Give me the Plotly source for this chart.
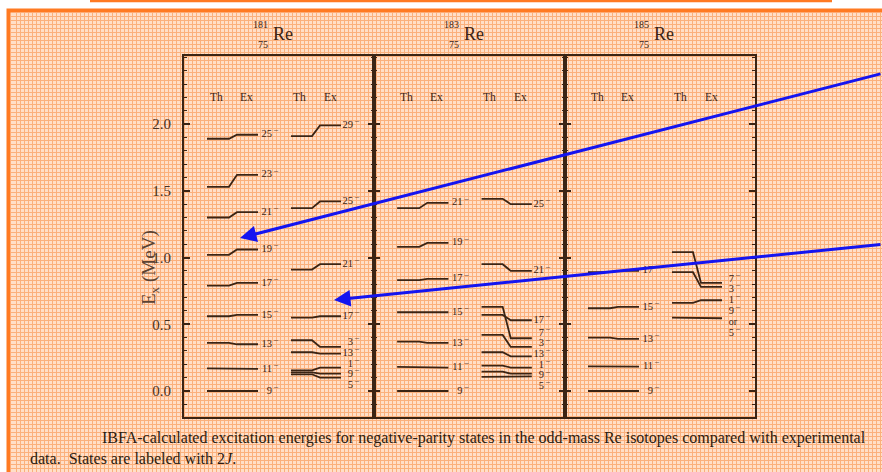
import plotly.graph_objects as go

# ---------------------------------------------------------------------------
# Level energies (MeV) for negative-parity states, labelled by 2J.
# Each isotope has two level columns; every level has a calculated (Th)
# and an experimental (Ex) energy.
# ---------------------------------------------------------------------------
isotopes = ["181", "183", "185"]
proton_number = "75"

re181_a_spin = ["9", "11", "13", "15", "17", "19", "21", "23", "25"]
re181_a_th = [0.00, 0.17, 0.36, 0.56, 0.79, 1.02, 1.30, 1.53, 1.89]
re181_a_ex = [0.00, 0.165, 0.35, 0.57, 0.81, 1.06, 1.34, 1.62, 1.92]
re181_b_spin = ["5", "9", "1", "13", "3", "17", "21", "25", "29"]
re181_b_th = [0.125, 0.14, 0.155, 0.29, 0.38, 0.55, 0.91, 1.37, 1.91]
re181_b_ex = [0.10, 0.13, 0.175, 0.28, 0.33, 0.56, 0.95, 1.42, 1.99]

re183_a_spin = ["9", "11", "13", "15", "17", "19", "21"]
re183_a_th = [0.00, 0.18, 0.37, 0.59, 0.83, 1.08, 1.37]
re183_a_ex = [0.00, 0.175, 0.36, 0.59, 0.84, 1.11, 1.41]
re183_b_spin = ["5", "9", "1", "13", "3", "7", "17", "21", "25"]
re183_b_th = [0.105, 0.145, 0.19, 0.29, 0.42, 0.63, 0.57, 0.95, 1.44]
re183_b_ex = [0.11, 0.13, 0.175, 0.26, 0.33, 0.395, 0.53, 0.90, 1.40]

re185_a_spin = ["9", "11", "13", "15", "17"]
re185_a_th = [0.00, 0.185, 0.40, 0.62, 0.89]
re185_a_ex = [0.00, 0.182, 0.39, 0.63, 0.90]
re185_b_spin = ["9 or 5", "1", "3", "7"]
re185_b_th = [0.55, 0.66, 0.89, 1.04]
re185_b_ex = [0.545, 0.68, 0.78, 0.81]

y_ticks = [0.0, 0.5, 1.0, 1.5, 2.0]
caption_1 = ("IBFA-calculated excitation energies for negative-parity states in the "
             "odd-mass Re isotopes compared with experimental")
caption_2 = "data.  States are labeled with 2<i>J</i>."

panels = [
    [(re181_a_spin, re181_a_th, re181_a_ex), (re181_b_spin, re181_b_th, re181_b_ex)],
    [(re183_a_spin, re183_a_th, re183_a_ex), (re183_b_spin, re183_b_th, re183_b_ex)],
    [(re185_a_spin, re185_a_th, re185_a_ex), (re185_b_spin, re185_b_th, re185_b_ex)],
]

# ---------------------------------------------------------------------------
# Layout geometry (pixels of the 882x472 page)
# ---------------------------------------------------------------------------
W, H = 882, 472
INK = "#3b2414"
ORANGE = "#ff7a22"
SERIF = "Liberation Serif"


def px(x):
    return x / W


def py(y):
    return 1 - y / H


panel_edges = [184, 374, 565, 755]
plot_top, plot_bottom = 56, 417
y_range = [-0.195, 2.51]

# column geometry inside a panel (panel units 0..190)
columns = [
    dict(th=(23, 45), ex=(53, 74), num_x=88, head_th=32, head_ex=62),
    dict(th=(107, 128), ex=(136, 157), num_x=169, head_th=115, head_ex=146),
]
MIN_GAP = 0.08    # MeV between stacked state labels
SUP_DY = 0.032    # raise of the parity sign
LABEL_SIZE = 10.5
OR_STEP = 0.085   # line step of a stacked "a or b" label


def declutter(values, gap):
    ys = list(values)
    order = sorted(range(len(ys)), key=lambda i: ys[i])
    for _ in range(400):
        moved = False
        for k in range(len(order) - 1):
            i, j = order[k], order[k + 1]
            d = ys[j] - ys[i]
            if d < gap - 1e-6:
                s = (gap - d) / 2
                ys[i] -= s
                ys[j] += s
                moved = True
        if not moved:
            break
    return ys


fig = go.Figure()

# background mesh subplot (drawn first, underneath everything)
fig.add_trace(go.Scatter(x=[None], y=[None], xaxis="x", yaxis="y",
                         showlegend=False, hoverinfo="skip"))

annotations = []

for p, cols in enumerate(panels):
    axn = str(p + 2)
    xa, ya = "x" + axn, "y" + axn
    for c, (spins, th, ex) in enumerate(cols):
        g = columns[c]
        xs, ys = [], []
        for t, e in zip(th, ex):
            xs += [g["th"][0], g["th"][1], g["ex"][0], g["ex"][1], None]
            ys += [t, t, e, e, None]
        fig.add_trace(go.Scatter(x=xs, y=ys, xaxis=xa, yaxis=ya, mode="lines",
                                 line=dict(color=INK, width=1.8),
                                 showlegend=False, hoverinfo="skip"))

        # state labels
        start = [e + (0.06 if " or " in s else 0.0) for s, e in zip(spins, ex)]
        lab_y = declutter(start, MIN_GAP)
        num_x, num_y, num_t = [], [], []
        sup_x, sup_y = [], []
        or_x, or_y = [], []
        for s, yy in zip(spins, lab_y):
            parts = s.split(" or ")
            for k, part in enumerate(parts):
                y0 = yy - k * 2 * OR_STEP
                num_x.append(g["num_x"])
                num_y.append(y0)
                num_t.append(part)
                sup_x.append(g["num_x"] + 2)
                sup_y.append(y0 + SUP_DY)
                if k > 0:
                    or_x.append(g["num_x"] + 3)
                    or_y.append(yy - OR_STEP)
        fig.add_trace(go.Scatter(x=num_x, y=num_y, text=num_t, mode="text",
                                 textposition="middle left", xaxis=xa, yaxis=ya,
                                 textfont=dict(family=SERIF, size=LABEL_SIZE, color=INK),
                                 showlegend=False, hoverinfo="skip"))
        fig.add_trace(go.Scatter(x=sup_x, y=sup_y, text=["\u2013"] * len(sup_x),
                                 mode="text", textposition="middle right",
                                 xaxis=xa, yaxis=ya,
                                 textfont=dict(family=SERIF, size=8, color=INK),
                                 showlegend=False, hoverinfo="skip"))
        if or_x:
            fig.add_trace(go.Scatter(x=or_x, y=or_y, text=["or"] * len(or_x),
                                     mode="text", textposition="middle left",
                                     xaxis=xa, yaxis=ya,
                                     textfont=dict(family=SERIF, size=10, color=INK),
                                     showlegend=False, hoverinfo="skip"))

        # Th / Ex column headers
        for hx, ht in ((g["head_th"], "Th"), (g["head_ex"], "Ex")):
            annotations.append(dict(x=hx, y=2.20, xref=xa, yref=ya, text=ht,
                                    showarrow=False, xanchor="center", yanchor="middle",
                                    font=dict(family=SERIF, size=11.5, color=INK)))

    # isotope symbol above each panel
    cx = (panel_edges[p] + panel_edges[p + 1]) / 2
    re_left = cx - 8
    annotations.append(dict(x=px(re_left), y=py(34), xref="paper", yref="paper",
                            text="Re", showarrow=False, xanchor="left", yanchor="middle",
                            font=dict(family=SERIF, size=18, color=INK)))
    annotations.append(dict(x=px(re_left - 1), y=py(25), xref="paper", yref="paper",
                            text=isotopes[p], showarrow=False, xanchor="right",
                            yanchor="middle",
                            font=dict(family=SERIF, size=10, color=INK)))
    annotations.append(dict(x=px(re_left - 1), y=py(45), xref="paper", yref="paper",
                            text=proton_number, showarrow=False, xanchor="right",
                            yanchor="middle",
                            font=dict(family=SERIF, size=10, color=INK)))

# y-axis title
annotations.append(dict(x=px(136), y=py(268), xref="paper", yref="paper",
                        text="E<sub>x</sub> (MeV)", textangle=-90, showarrow=False,
                        font=dict(family=SERIF, size=19, color="#5a4232")))

# caption
annotations.append(dict(x=px(100), y=py(438), xref="paper", yref="paper",
                        text=caption_1, showarrow=False, xanchor="left", yanchor="middle",
                        font=dict(family=SERIF, size=16, color="#2b1b10")))
annotations.append(dict(x=px(28), y=py(458), xref="paper", yref="paper",
                        text=caption_2, showarrow=False, xanchor="left", yanchor="middle",
                        font=dict(family=SERIF, size=16, color="#2b1b10")))

# blue pointer arrows
for head, tail in (((240, 238), (900, 73.5)), ((334, 300), (900, 244.3))):
    annotations.append(dict(x=px(head[0]), y=py(head[1]), xref="paper", yref="paper",
                            ax=tail[0] - head[0], ay=tail[1] - head[1],
                            axref="pixel", ayref="pixel", text="", showarrow=True,
                            arrowhead=2, arrowsize=1.1, arrowwidth=3,
                            arrowcolor="#1414f0"))

layout = dict(
    width=W, height=H,
    margin=dict(l=0, r=0, t=0, b=0),
    paper_bgcolor="white",
    plot_bgcolor="rgba(0,0,0,0)",
    showlegend=False,
    annotations=annotations,
    shapes=[
        dict(type="rect", xref="paper", yref="paper",
             x0=px(8.5), x1=px(890), y0=py(490), y1=py(10.5),
             line=dict(color=ORANGE, width=4), fillcolor="#ffdfc8", layer="below"),
        dict(type="line", xref="paper", yref="paper",
             x0=px(90), x1=px(832), y0=py(1), y1=py(1),
             line=dict(color=ORANGE, width=2.5), layer="below"),
    ],
    # mesh of the page background
    xaxis=dict(domain=[px(11), 1], range=[11, W], dtick=4, tick0=0, showgrid=True,
               gridcolor="#fbb07c", gridwidth=1, zeroline=False, showline=False,
               showticklabels=False, ticks="", fixedrange=True),
    yaxis=dict(domain=[0, py(13)], range=[0, H - 13], dtick=4, tick0=0, showgrid=True,
               gridcolor="#fbb07c", gridwidth=1, zeroline=False, showline=False,
               showticklabels=False, ticks="", fixedrange=True),
)

for p in range(3):
    axn = str(p + 2)
    layout["xaxis" + axn] = dict(
        domain=[px(panel_edges[p]), px(panel_edges[p + 1])], range=[0, 190],
        anchor="y" + axn, showline=True, mirror=True, linecolor=INK, linewidth=2,
        showgrid=False, zeroline=False, showticklabels=False, ticks="")
    layout["yaxis" + axn] = dict(
        domain=[py(plot_bottom), py(plot_top)], range=y_range, anchor="x" + axn,
        showline=True, mirror="ticks", linecolor=INK, linewidth=2,
        showgrid=False, zeroline=False,
        tickmode="array", tickvals=y_ticks, tickformat=".1f",
        ticks="inside", ticklen=6, tickwidth=1.5, tickcolor=INK,
        minor=dict(dtick=0.1, tick0=0, ticks="inside", ticklen=3, tickwidth=1.2,
                   tickcolor=INK, showgrid=False),
        showticklabels=(p == 0),
        tickfont=dict(family=SERIF, size=15, color="#4a3020"),
        ticklabelstandoff=8)

fig.update_layout(**layout)
fig.write_html("out.html")
